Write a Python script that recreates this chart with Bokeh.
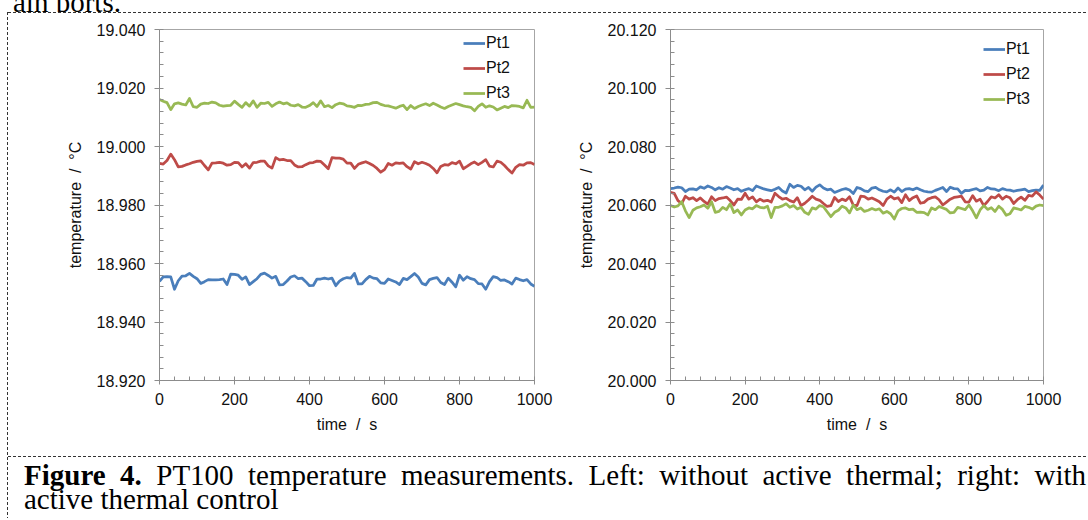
from bokeh.plotting import figure
from bokeh.models import Range1d, SingleIntervalTicker, NumeralTickFormatter, Div, Spacer
from bokeh.layouts import row, column
from bokeh.embed import file_html
from bokeh.resources import INLINE

# ---------------- data ----------------
time_s = list(range(0, 1010, 10))

left_pt1 = [
    18.9539, 18.9554, 18.9555, 18.9554, 18.9512, 18.9541, 18.9557, 18.9558, 18.9566, 18.9556,
    18.9548, 18.9532, 18.9538, 18.9545, 18.9544, 18.9544, 18.9545, 18.9547, 18.9528, 18.9564,
    18.9563, 18.9560, 18.9546, 18.9554, 18.9528, 18.9538, 18.9548, 18.9563, 18.9567, 18.9559,
    18.9550, 18.9556, 18.9527, 18.9528, 18.9540, 18.9554, 18.9558, 18.9548, 18.9550, 18.9538,
    18.9524, 18.9525, 18.9547, 18.9547, 18.9550, 18.9547, 18.9550, 18.9524, 18.9540, 18.9548,
    18.9552, 18.9550, 18.9566, 18.9530, 18.9530, 18.9545, 18.9556, 18.9550, 18.9548, 18.9534,
    18.9532, 18.9547, 18.9542, 18.9537, 18.9528, 18.9549, 18.9545, 18.9555, 18.9566, 18.9554,
    18.9532, 18.9527, 18.9545, 18.9549, 18.9552, 18.9535, 18.9528, 18.9550, 18.9536, 18.9520,
    18.9560, 18.9543, 18.9555, 18.9548, 18.9545, 18.9531, 18.9530, 18.9512, 18.9538, 18.9555,
    18.9552, 18.9542, 18.9544, 18.9538, 18.9530, 18.9550, 18.9545, 18.9541, 18.9545, 18.9530,
    18.9522,
]
left_pt2 = [
    18.9942, 18.9940, 18.9952, 18.9974, 18.9955, 18.9930, 18.9932, 18.9937, 18.9941, 18.9946,
    18.9949, 18.9951, 18.9935, 18.9920, 18.9943, 18.9944, 18.9946, 18.9943, 18.9936, 18.9938,
    18.9946, 18.9945, 18.9930, 18.9941, 18.9926, 18.9945, 18.9946, 18.9950, 18.9950, 18.9934,
    18.9926, 18.9962, 18.9954, 18.9956, 18.9952, 18.9952, 18.9937, 18.9930, 18.9931, 18.9938,
    18.9944, 18.9945, 18.9950, 18.9949, 18.9937, 18.9924, 18.9962, 18.9960, 18.9960, 18.9957,
    18.9943, 18.9943, 18.9925, 18.9939, 18.9944, 18.9948, 18.9942, 18.9935, 18.9925, 18.9912,
    18.9921, 18.9942, 18.9936, 18.9944, 18.9942, 18.9944, 18.9931, 18.9923, 18.9948, 18.9941,
    18.9946, 18.9942, 18.9936, 18.9925, 18.9910, 18.9932, 18.9938, 18.9936, 18.9945, 18.9941,
    18.9950, 18.9924, 18.9932, 18.9941, 18.9947, 18.9938, 18.9946, 18.9955, 18.9933, 18.9930,
    18.9950, 18.9946, 18.9935, 18.9921, 18.9909, 18.9929, 18.9938, 18.9936, 18.9944, 18.9945,
    18.9938,
]
left_pt3 = [
    19.0161, 19.0155, 19.0150, 19.0126, 19.0146, 19.0149, 19.0145, 19.0142, 19.0164, 19.0136,
    19.0134, 19.0145, 19.0148, 19.0147, 19.0152, 19.0149, 19.0141, 19.0138, 19.0140, 19.0141,
    19.0155, 19.0144, 19.0134, 19.0150, 19.0138, 19.0156, 19.0134, 19.0148, 19.0147, 19.0151,
    19.0137, 19.0146, 19.0152, 19.0146, 19.0149, 19.0141, 19.0139, 19.0143, 19.0135, 19.0134,
    19.0140, 19.0150, 19.0137, 19.0156, 19.0136, 19.0140, 19.0133, 19.0143, 19.0148, 19.0146,
    19.0139, 19.0137, 19.0134, 19.0141, 19.0140, 19.0144, 19.0145, 19.0150, 19.0151, 19.0144,
    19.0140, 19.0139, 19.0135, 19.0131, 19.0137, 19.0141, 19.0126, 19.0140, 19.0130, 19.0137,
    19.0142, 19.0146, 19.0140, 19.0148, 19.0142, 19.0135, 19.0130, 19.0137, 19.0142, 19.0147,
    19.0143, 19.0139, 19.0136, 19.0134, 19.0122, 19.0137, 19.0146, 19.0134, 19.0139, 19.0135,
    19.0125, 19.0131, 19.0137, 19.0133, 19.0140, 19.0139, 19.0137, 19.0132, 19.0158, 19.0134,
    19.0135,
]

right_pt1 = [
    20.0656, 20.0658, 20.0661, 20.0659, 20.0646, 20.0654, 20.0655, 20.0652, 20.0662, 20.0657,
    20.0665, 20.0660, 20.0652, 20.0659, 20.0654, 20.0663, 20.0658, 20.0652, 20.0656, 20.0647,
    20.0652, 20.0656, 20.0649, 20.0665, 20.0660, 20.0655, 20.0652, 20.0649, 20.0654, 20.0660,
    20.0648, 20.0641, 20.0671, 20.0660, 20.0667, 20.0664, 20.0652, 20.0660, 20.0647, 20.0661,
    20.0669, 20.0658, 20.0652, 20.0654, 20.0643, 20.0648, 20.0653, 20.0656, 20.0651, 20.0639,
    20.0660, 20.0656, 20.0648, 20.0646, 20.0658, 20.0660, 20.0652, 20.0647, 20.0645, 20.0652,
    20.0644, 20.0658, 20.0646, 20.0654, 20.0656, 20.0652, 20.0658, 20.0652, 20.0647, 20.0645,
    20.0644, 20.0650, 20.0655, 20.0660, 20.0646, 20.0661, 20.0656, 20.0655, 20.0640, 20.0650,
    20.0649, 20.0653, 20.0656, 20.0648, 20.0651, 20.0660, 20.0655, 20.0654, 20.0649, 20.0656,
    20.0652, 20.0651, 20.0647, 20.0650, 20.0652, 20.0654, 20.0646, 20.0649, 20.0651, 20.0650,
    20.0668,
]
right_pt2 = [
    20.0643, 20.0640, 20.0615, 20.0605, 20.0630, 20.0620, 20.0625, 20.0615, 20.0624, 20.0612,
    20.0603, 20.0628, 20.0615, 20.0622, 20.0624, 20.0627, 20.0615, 20.0600, 20.0620, 20.0619,
    20.0640, 20.0620, 20.0628, 20.0611, 20.0620, 20.0613, 20.0616, 20.0610, 20.0640, 20.0629,
    20.0620, 20.0623, 20.0615, 20.0610, 20.0625, 20.0598, 20.0606, 20.0617, 20.0630, 20.0620,
    20.0616, 20.0605, 20.0595, 20.0598, 20.0626, 20.0612, 20.0620, 20.0615, 20.0628, 20.0600,
    20.0598, 20.0630, 20.0629, 20.0620, 20.0624, 20.0618, 20.0611, 20.0598, 20.0620, 20.0630,
    20.0621, 20.0625, 20.0608, 20.0635, 20.0615, 20.0625, 20.0631, 20.0606, 20.0609, 20.0620,
    20.0625, 20.0628, 20.0618, 20.0600, 20.0610, 20.0620, 20.0626, 20.0628, 20.0630, 20.0611,
    20.0610, 20.0632, 20.0613, 20.0620, 20.0598, 20.0612, 20.0628, 20.0624, 20.0635, 20.0620,
    20.0630, 20.0625, 20.0605, 20.0618, 20.0627, 20.0616, 20.0633, 20.0630, 20.0645, 20.0634,
    20.0620,
]
right_pt3 = [
    20.0598, 20.0593, 20.0597, 20.0611, 20.0580, 20.0557, 20.0582, 20.0590, 20.0594, 20.0600,
    20.0589, 20.0611, 20.0575, 20.0578, 20.0592, 20.0584, 20.0604, 20.0574, 20.0583, 20.0566,
    20.0583, 20.0590, 20.0587, 20.0598, 20.0592, 20.0590, 20.0596, 20.0557, 20.0592, 20.0592,
    20.0597, 20.0604, 20.0592, 20.0598, 20.0586, 20.0592, 20.0575, 20.0568, 20.0590, 20.0586,
    20.0598, 20.0594, 20.0577, 20.0560, 20.0575, 20.0582, 20.0596, 20.0590, 20.0573, 20.0600,
    20.0584, 20.0590, 20.0578, 20.0582, 20.0588, 20.0583, 20.0587, 20.0572, 20.0578, 20.0570,
    20.0552, 20.0580, 20.0588, 20.0590, 20.0584, 20.0586, 20.0575, 20.0576, 20.0574, 20.0566,
    20.0590, 20.0584, 20.0595, 20.0590, 20.0585, 20.0573, 20.0575, 20.0592, 20.0588, 20.0584,
    20.0600, 20.0580, 20.0556, 20.0583, 20.0598, 20.0585, 20.0591, 20.0578, 20.0596, 20.0585,
    20.0565, 20.0570, 20.0590, 20.0587, 20.0583, 20.0595, 20.0592, 20.0586, 20.0596, 20.0600,
    20.0598,
]

series_names = ["Pt1", "Pt2", "Pt3"]
series_colors = ["#4A7EBB", "#BE4B48", "#98B954"]

x_label = "time\u00a0 /\u00a0 s"
y_label = "temperature\u00a0 /\u00a0 \u00b0C"
caption_bold = "Figure 4."
caption_rest = "PT100 temperature measurements. Left: without active thermal; right: with"
caption_line2 = "active thermal control"
top_fragment = "ain ports."

FONT = "Liberation Sans"
SERIF = "'Liberation Serif','Times New Roman',serif"
AXIS_GREY = "#8C8C8C"


def make_fig(ys, y_lo, y_hi, w, h, bl, br, bt, bb, legend_xy):
    p = figure(
        width=w, height=h, title=None,
        min_border_left=bl, min_border_right=br,
        min_border_top=bt, min_border_bottom=bb,
        x_range=Range1d(0, 1000), y_range=Range1d(y_lo, y_hi),
        output_backend="svg", toolbar_location=None,
    )
    p.xgrid.visible = False
    p.ygrid.visible = False
    p.outline_line_color = "#A6A6A6"
    p.outline_line_width = 1
    p.background_fill_color = "white"
    p.border_fill_color = "white"

    p.xaxis.ticker = SingleIntervalTicker(interval=200, num_minor_ticks=5)
    p.yaxis.ticker = SingleIntervalTicker(interval=0.02, num_minor_ticks=5)
    p.yaxis.formatter = NumeralTickFormatter(format="0.000")

    for ax in (p.xaxis[0], p.yaxis[0]):
        ax.axis_line_color = AXIS_GREY
        ax.major_tick_line_color = AXIS_GREY
        ax.minor_tick_line_color = AXIS_GREY
        ax.major_label_text_font = FONT
        ax.major_label_text_font_size = "16px"
        ax.major_label_text_color = "#111111"
        ax.axis_label_text_font = FONT
        ax.axis_label_text_font_size = "16px"
        ax.axis_label_text_font_style = "normal"
        ax.axis_label_text_color = "#111111"
        ax.minor_tick_in = 4
        ax.minor_tick_out = 0

    p.xaxis.major_tick_in = 3
    p.xaxis.major_tick_out = 4
    p.xaxis.major_label_standoff = 8
    p.xaxis.axis_label = x_label
    p.xaxis.axis_label_standoff = 8

    p.yaxis.major_tick_in = 0
    p.yaxis.major_tick_out = 5
    p.yaxis.major_label_standoff = 9
    p.yaxis.axis_label = y_label
    p.yaxis.axis_label_standoff = 10

    for y, name, col in zip(ys, series_names, series_colors):
        p.line(time_s, y, line_color=col, line_width=2.75, legend_label=name,
               line_join="round")

    lg = p.legend[0]
    lg.location = legend_xy
    lg.border_line_alpha = 0
    lg.background_fill_alpha = 0
    lg.padding = 0
    lg.margin = 0
    lg.spacing = 5
    lg.glyph_width = 22
    lg.glyph_height = 20
    lg.label_height = 20
    lg.label_standoff = 1
    lg.label_text_font = FONT
    lg.label_text_font_size = "16px"
    lg.label_text_color = "#111111"
    return p


H_DASH = "repeating-linear-gradient(to right, #333 0px, #333 3px, transparent 3px, transparent 5px)"
V_DASH = "repeating-linear-gradient(to bottom, #333 0px, #333 3px, transparent 3px, transparent 5px)"

# page margin is 0 in Bokeh's template
# left: frame x 159..534, y 27..380 ; right: frame x 664..1043, y 29..381
f1 = make_fig([left_pt1, left_pt2, left_pt3], 18.92, 19.04,
              566, 443, 151, 40, 14, 76, (304, 277))
f2 = make_fig([right_pt1, right_pt2, right_pt3], 20.0, 20.12,
              506, 443, 90, 37, 16, 75, (313, 271))

INNER_W = 1078
top_text = Div(
    text=(
        f'<div style="font-family:{SERIF};font-size:29px;line-height:24px;color:#000;'
        f'white-space:nowrap;margin:-15px 0 0 13px">{top_fragment}</div>'
    ),
    width=1086, height=12, margin=0, styles={"overflow": "hidden"},
)
left_space = Spacer(width=7, height=506)
vline = Spacer(width=1, height=506, styles={"background-image": V_DASH})
hline_top = Spacer(width=INNER_W, height=1, styles={"background-image": H_DASH})
hline_mid = Spacer(width=INNER_W, height=1, styles={"background-image": H_DASH})
caption = Div(
    text=(
        f'<div style="box-sizing:border-box;font-family:{SERIF};'
        f'font-size:29px;line-height:24px;color:#000;padding:6px 0 0 16px;width:{INNER_W}px">'
        '<div style="text-align:justify;text-align-last:justify">'
        f'<b>{caption_bold}</b> {caption_rest}</div>'
        f'<div>{caption_line2}</div></div>'
    ),
    width=INNER_W, height=58, margin=0,
)

charts = row(f1, f2, spacing=0)
inner = column(hline_top, charts, hline_mid, caption, spacing=0)
body = row(left_space, vline, inner, spacing=0)
layout = column(top_text, body, spacing=0)

open("out.html", "w").write(file_html(layout, INLINE))
